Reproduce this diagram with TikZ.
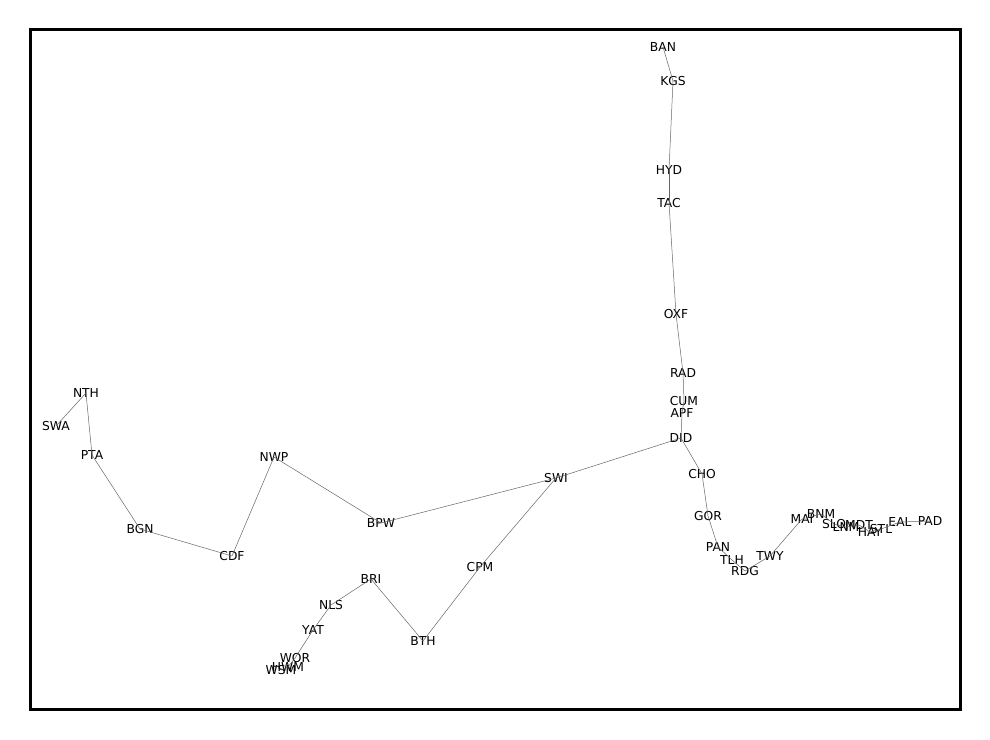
\documentclass[tikz,border=0pt]{standalone}
\usepackage{fontspec}
\setmainfont{DejaVu Sans}
\begin{document}
\begin{tikzpicture}[x=1pt,y=-1pt,
  lbl/.style={inner sep=0pt,font=\fontsize{12.3}{12.3}\selectfont},
  edge/.style={draw=gray!80!black,line width=0.5pt}]
\useasboundingbox (0,0) rectangle (990,739);
\draw[line width=3pt] (30,29) rectangle (960,709);
\foreach \n/\x/\y in {BAN/663/47,KGS/673/81,HYD/669/170,TAC/669/203,OXF/676/314,RAD/683/373,CUM/684/401,APF/682/413,DID/681/438,CHO/702/474,GOR/708/516,PAN/718/547,TLH/732/560,RDG/745/571,TWY/770/556,MAI/802/519,BNM/821/514,SLO/834/524,LNM/846/527,MDT/859/525,HAY/870/532,STL/881/529,EAL/900/522,PAD/930/521,SWA/56/426,NTH/86/393,PTA/92/455,BGN/140/529,CDF/232/556,NWP/274/457,BPW/381/523,SWI/556/478,CPM/480/567,BTH/423/641,BRI/371/579,NLS/331/605,YAT/313/630,WOR/295/658,HWM/288/667,WSM/281/670}
  \node[lbl] (\n) at (\x,\y) {\n};
\foreach \a/\b in {BAN/KGS,KGS/HYD,HYD/TAC,TAC/OXF,OXF/RAD,RAD/CUM,CUM/APF,APF/DID,DID/CHO,CHO/GOR,GOR/PAN,PAN/TLH,TLH/RDG,RDG/TWY,TWY/MAI,MAI/BNM,BNM/SLO,SLO/LNM,LNM/MDT,MDT/HAY,HAY/STL,STL/EAL,EAL/PAD,SWA/NTH,NTH/PTA,PTA/BGN,BGN/CDF,CDF/NWP,NWP/BPW,BPW/SWI,SWI/DID,SWI/CPM,CPM/BTH,BTH/BRI,BRI/NLS,NLS/YAT,YAT/WOR,WOR/HWM,HWM/WSM}
  \draw[edge] (\a.center) -- (\b.center);
\end{tikzpicture}
\end{document}
